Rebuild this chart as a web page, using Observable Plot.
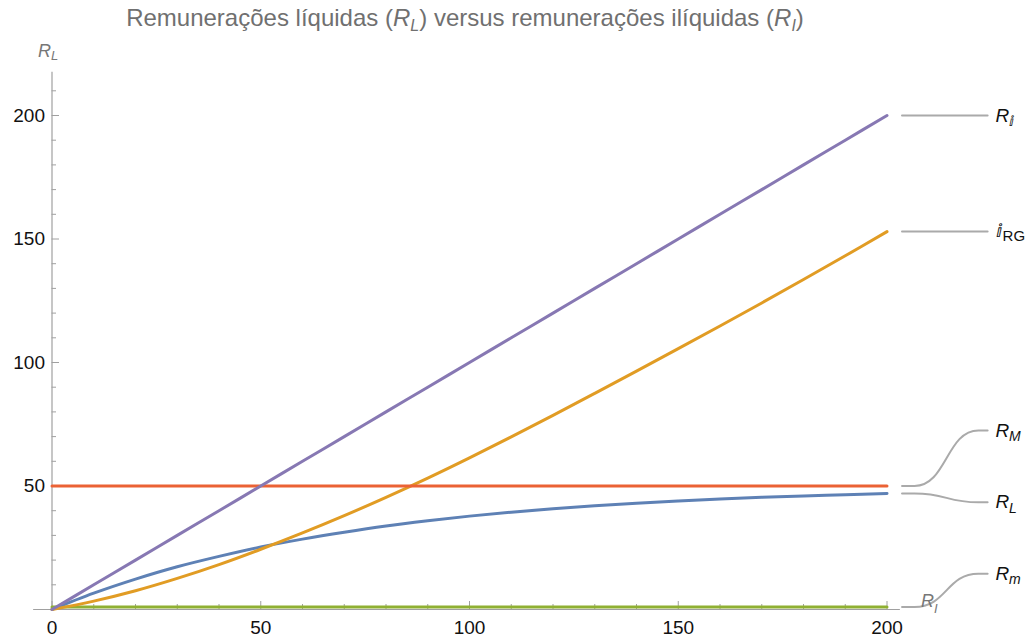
<!DOCTYPE html>
<html><head><meta charset="utf-8">
<script src="https://cdn.jsdelivr.net/npm/d3@7"></script>
<script src="https://cdn.jsdelivr.net/npm/@observablehq/plot@0.6"></script>
<style>
body{margin:0;background:#fff;font-family:"Liberation Sans",Arial,sans-serif;}
#title{position:absolute;left:0;top:0;width:930px;text-align:center;font-size:24px;color:#707070;line-height:36px;white-space:nowrap;}
#title .sub{font-size:16px;position:relative;top:5px;}
#chart{position:absolute;left:0;top:34px;}
</style></head><body>
<div id="title">Remunerações líquidas (<i>R</i><i class="sub">L</i>) versus remunerações ilíquidas (<i>R</i><i class="sub">I</i>)</div>
<div id="chart"></div>
<script>
// ---- data ----
const xs      = [0,10,20,30,40,50,60,70,80,90,100,110,120,130,140,150,160,170,180,190,200];
const rIi     = [0,10,20,30,40,50,60,70,80,90,100,110,120,130,140,150,160,170,180,190,200];   // purple
const iRG     = [0,3.4,7.6,12.6,18.2,24.4,31.0,38.0,45.4,53.2,61.4,69.9,78.6,87.5,96.5,105.6,114.8,124.1,133.6,143.2,153.0]; // orange
const rL      = [0,6.6,12.3,17.3,21.5,25.3,28.5,31.3,33.8,35.9,37.8,39.4,40.8,42.0,43.0,43.9,44.7,45.4,46.0,46.5,47.0]; // blue
const rM      = [50,50,50,50,50,50,50,50,50,50,50,50,50,50,50,50,50,50,50,50,50]; // red
const rm      = [1,1,1,1,1,1,1,1,1,1,1,1,1,1,1,1,1,1,1,1,1];   // green

const yMajor = [50,100,150,200];
const yMinor = [10,20,30,40,60,70,80,90,110,120,130,140,160,170,180,190,210];
const xMajor = [0,50,100,150,200];
const xMinor = [10,20,30,40,60,70,80,90,110,120,130,140,160,170,180,190];

// labels: base, subscript, value at curve end, value at label
const labBase = ["R","\u2148","R","R","R"];
const labSub  = ["\u2148","RG","M","L","m"];
const labFrom = [200,153,50,47,1];
const labTo   = [200,153,72.5,43.4,14.5];
const labBaseItalic = [true,false,true,true,true];
const labSubItalic  = [false,false,true,true,true];

// ---- styling / geometry ----
const W = 1034, H = 605, mL = 51.5, mR = 147.5, mT = 81, mB = 30;
const frameW = W - mL - mR, frameH = H - mT - mB;
const colors = {rL:"#5E81B5", iRG:"#E19C24", rm:"#8FB032", rM:"#EB6235", rIi:"#8778B3"};
const axisColor = "#a0a0a0";
const callX = [203.6, 206.6, 221.9, 224.1];
const labX = 226.0;

const series = (name, vals) => xs.map((x,i) => ({x, y: vals[i], name}));

const callouts = [];
labFrom.forEach((v,i) => {
  callouts.push({x: callX[0], y: v, k: i});
  callouts.push({x: callX[1], y: v, k: i});
  callouts.push({x: callX[2], y: labTo[i], k: i});
  callouts.push({x: callX[3], y: labTo[i], k: i});
});
const labels = labBase.map((b,i) => ({b, s: labSub[i], y: labTo[i], bi: labBaseItalic[i], si: labSubItalic[i], rg: labSub[i] === "RG"}));

const lineOpts = {x:"x", y:"y", strokeWidth:3, curve:"catmull-rom"};
const txt = (filter, opts) => Plot.text(labels, {x:()=>labX, y:"y", textAnchor:"start", fill:"#111", filter, ...opts});

const plot = Plot.plot({
  width: W, height: H,
  marginLeft: mL, marginRight: mR, marginTop: mT, marginBottom: mB,
  x: {domain:[0,200], axis:null},
  y: {domain:[0,200], axis:null},
  style: {fontFamily:"Liberation Sans, Arial, sans-serif", background:"white"},
  marks: [
    // axes
    Plot.ruleY([0], {x1:-4.4, x2:203.2, stroke:axisColor, strokeWidth:1.2}),
    Plot.ruleX([0], {y1:0, y2:217.5, stroke:axisColor, strokeWidth:1.2}),
    Plot.tickY(yMinor, {y:d=>d, insetRight: frameW-4.5, stroke:axisColor}),
    Plot.tickY(yMajor, {y:d=>d, insetRight: frameW-7.5, stroke:axisColor}),
    Plot.tickX(xMinor, {x:d=>d, insetTop: frameH-5, stroke:axisColor}),
    Plot.tickX(xMajor, {x:d=>d, insetTop: frameH-8, stroke:axisColor}),
    Plot.text(yMajor, {y:d=>d, text:d=>String(d), frameAnchor:"left", textAnchor:"end", dx:-7, fontSize:19, fill:"#111"}),
    Plot.text(xMajor, {x:d=>d, text:d=>String(d), frameAnchor:"bottom", lineAnchor:"middle", dy:18, fontSize:19, fill:"#111"}),
    // series
    Plot.line(series("rm", rm), {...lineOpts, stroke:colors.rm}),
    Plot.line(series("rL", rL), {...lineOpts, stroke:colors.rL}),
    Plot.line(series("iRG", iRG), {...lineOpts, stroke:colors.iRG}),
    Plot.line(series("rM", rM), {...lineOpts, stroke:colors.rM}),
    Plot.line(series("rIi", rIi), {...lineOpts, stroke:colors.rIi}),
    // callouts
    Plot.line(callouts, {x:"x", y:"y", z:"k", stroke:"#aaaaaa", strokeWidth:2, curve:"bump-x"}),
    txt(d=>d.bi, {text:"b", fontSize:19, fontStyle:"italic"}),
    txt(d=>!d.bi, {text:"b", fontSize:18}),
    txt(d=>d.si, {text:"s", dx:13.5, dy:6, fontSize:14, fontStyle:"italic"}),
    txt(d=>!d.si && !d.rg, {text:"s", dx:13, dy:6, fontSize:14}),
    txt(d=>d.rg, {text:"s", dx:7, dy:5, fontSize:15}),
    // axis labels
    Plot.text(["R"], {frameAnchor:"top-left", textAnchor:"start", dx:-14, dy:-71, fontSize:18, fontStyle:"italic", fill:"#777"}),
    Plot.text(["L"], {frameAnchor:"top-left", textAnchor:"start", dx:-1, dy:-65, fontSize:13, fontStyle:"italic", fill:"#777"}),
    Plot.text(["R"], {frameAnchor:"bottom-right", textAnchor:"start", dx:34, dy:-3, fontSize:18, fontStyle:"italic", fill:"#777"}),
    Plot.text(["I"], {frameAnchor:"bottom-right", textAnchor:"start", dx:47, dy:3, fontSize:13, fontStyle:"italic", fill:"#777"})
  ]
});
document.getElementById("chart").appendChild(plot);
</script>
</body></html>
